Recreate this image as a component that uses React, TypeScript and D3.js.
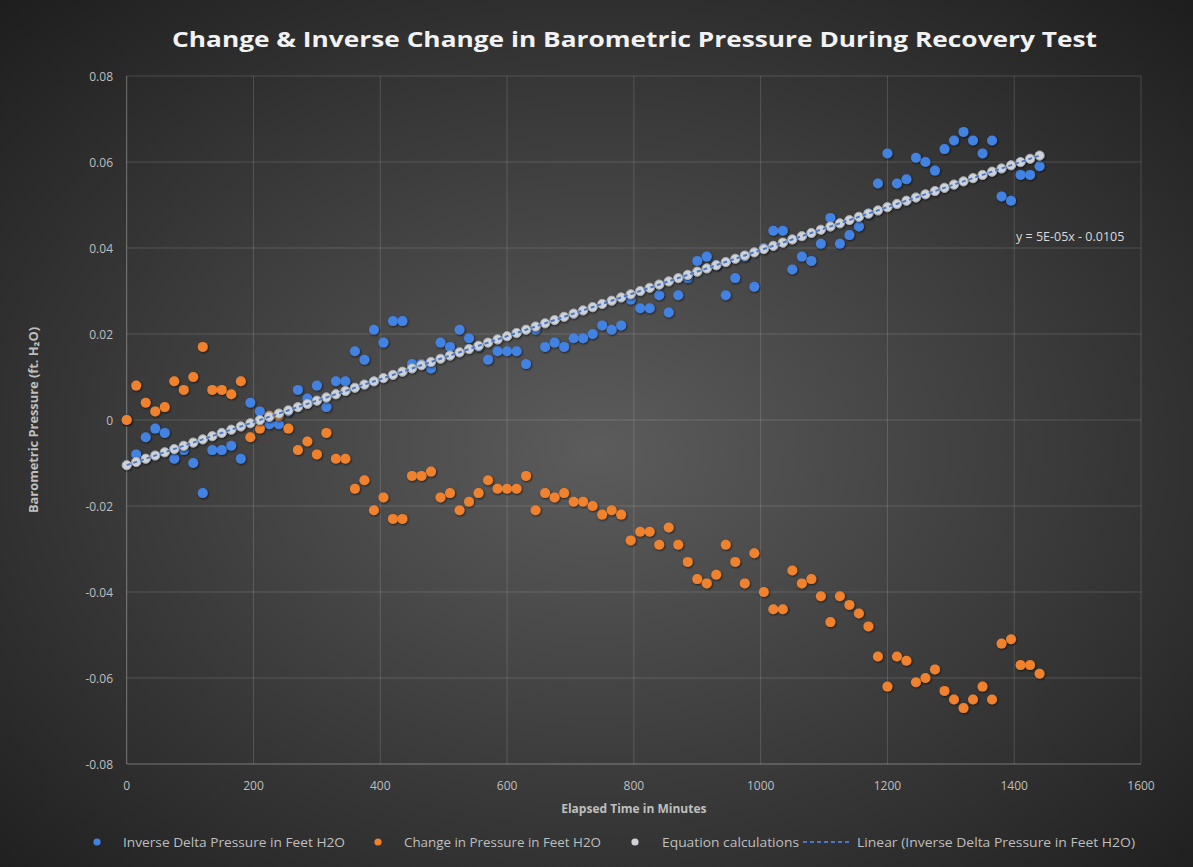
import React from "react";
import * as d3 from "d3";

// Elapsed time (minutes), one reading every 15 minutes
const times: number[] = d3.range(0, 1441, 15);

// Change in pressure, feet of H2O
const changeInPressure: number[] = [
  0, 0.008, 0.004, 0.002, 0.003, 0.009, 0.007, 0.010, 0.017, 0.007,
  0.007, 0.006, 0.009, -0.004, -0.002, 0.001, 0.001, -0.002, -0.007, -0.005,
  -0.008, -0.003, -0.009, -0.009, -0.016, -0.014, -0.021, -0.018, -0.023, -0.023,
  -0.013, -0.013, -0.012, -0.018, -0.017, -0.021, -0.019, -0.017, -0.014, -0.016,
  -0.016, -0.016, -0.013, -0.021, -0.017, -0.018, -0.017, -0.019, -0.019, -0.020,
  -0.022, -0.021, -0.022, -0.028, -0.026, -0.026, -0.029, -0.025, -0.029, -0.033,
  -0.037, -0.038, -0.036, -0.029, -0.033, -0.038, -0.031, -0.040, -0.044, -0.044,
  -0.035, -0.038, -0.037, -0.041, -0.047, -0.041, -0.043, -0.045, -0.048, -0.055,
  -0.062, -0.055, -0.056, -0.061, -0.060, -0.058, -0.063, -0.065, -0.067, -0.065,
  -0.062, -0.065, -0.052, -0.051, -0.057, -0.057, -0.059,
];

// Inverse delta pressure, feet of H2O
const inverseDelta: number[] = [
  0, -0.008, -0.004, -0.002, -0.003, -0.009, -0.007, -0.010, -0.017, -0.007,
  -0.007, -0.006, -0.009, 0.004, 0.002, -0.001, -0.001, 0.002, 0.007, 0.005,
  0.008, 0.003, 0.009, 0.009, 0.016, 0.014, 0.021, 0.018, 0.023, 0.023,
  0.013, 0.013, 0.012, 0.018, 0.017, 0.021, 0.019, 0.017, 0.014, 0.016,
  0.016, 0.016, 0.013, 0.021, 0.017, 0.018, 0.017, 0.019, 0.019, 0.020,
  0.022, 0.021, 0.022, 0.028, 0.026, 0.026, 0.029, 0.025, 0.029, 0.033,
  0.037, 0.038, 0.036, 0.029, 0.033, 0.038, 0.031, 0.040, 0.044, 0.044,
  0.035, 0.038, 0.037, 0.041, 0.047, 0.041, 0.043, 0.045, 0.048, 0.055,
  0.062, 0.055, 0.056, 0.061, 0.060, 0.058, 0.063, 0.065, 0.067, 0.065,
  0.062, 0.065, 0.052, 0.051, 0.057, 0.057, 0.059,
];

// Linear trend stated on the chart: y = 5E-05x - 0.0105
const trendSlope = 5e-5;
const trendIntercept = -0.0105;

const xTicks: number[] = [0, 200, 400, 600, 800, 1000, 1200, 1400, 1600];
const yTicks: number[] = [0.08, 0.06, 0.04, 0.02, 0, -0.02, -0.04, -0.06, -0.08];
const yTickLabels: string[] = ["0.08", "0.06", "0.04", "0.02", "0", "-0.02", "-0.04", "-0.06", "-0.08"];

const W = 1193;
const H = 867;
const FONT = "'Open Sans', 'Liberation Sans', sans-serif";

const BLUE = "#4282e2";
const ORANGE = "#f0822e";
const GRAY_FILL = "#cfd3d8";
const GRAY_STROKE = "#a3a9b0";
const TREND = "#4a78c8";

export default function App() {
  const x = d3.scaleLinear().domain([0, 1600]).range([126.7, 1141]);
  const y = d3.scaleLinear().domain([-0.08, 0.08]).range([764, 76]);

  const equationValues = times.map((t) => trendSlope * t + trendIntercept);
  const trendLine = d3
    .line<number>()
    .x((t) => x(t))
    .y((t) => y(trendSlope * t + trendIntercept));

  const r = 5;

  return (
    <svg
      width={W}
      height={H}
      style={{ position: "absolute", left: 0, top: 0, display: "block" }}
      fontFamily={FONT}
    >
      <defs>
        <radialGradient id="bg" cx="50%" cy="52%" r="75%">
          <stop offset="0%" stopColor="#5c5c5c" />
          <stop offset="100%" stopColor="#1b1b1b" />
        </radialGradient>
        <filter id="shadow" x="-50%" y="-50%" width="200%" height="200%">
          <feDropShadow dx="0.8" dy="1" stdDeviation="1" floodColor="#000" floodOpacity="0.65" />
        </filter>
      </defs>

      <rect x={0} y={0} width={W} height={H} fill="url(#bg)" />

      {/* gridlines */}
      <g>
        {yTicks.map((v) => (
          <line
            key={"gy" + v}
            x1={x(0)}
            x2={x(1600)}
            y1={y(v)}
            y2={y(v)}
            stroke="#ffffff"
            strokeOpacity={v === -0.08 ? 0.35 : 0.15}
            strokeWidth={1}
          />
        ))}
        {xTicks.map((v) => (
          <line
            key={"gx" + v}
            x1={x(v)}
            x2={x(v)}
            y1={y(0.08)}
            y2={y(-0.08)}
            stroke="#ffffff"
            strokeOpacity={v === 0 ? 0.35 : 0.15}
            strokeWidth={1}
          />
        ))}
      </g>

      {/* tick labels */}
      <g fontSize={12} fill="#bfbfbf">
        {yTicks.map((v, i) => (
          <text key={"ty" + v} x={113} y={y(v)} textAnchor="end" dominantBaseline="central">
            {yTickLabels[i]}
          </text>
        ))}
        {xTicks.map((v) => (
          <text key={"tx" + v} x={x(v)} y={785} textAnchor="middle" dominantBaseline="central">
            {v}
          </text>
        ))}
      </g>

      {/* axis titles */}
      <text
        x={x(800)}
        y={808}
        textAnchor="middle"
        dominantBaseline="central"
        fontSize={12}
        fontWeight="bold"
        fill="#bfbfbf"
      >
        Elapsed Time in Minutes
      </text>
      <text
        transform={`translate(33, ${y(0)}) rotate(-90)`}
        textAnchor="middle"
        dominantBaseline="central"
        fontSize={12}
        fontWeight="bold"
        fill="#bfbfbf"
        textLength={186}
        lengthAdjust="spacingAndGlyphs"
      >
        Barometric Pressure  (ft. H₂O)
      </text>

      {/* title */}
      <text
        x={634.5}
        y={38}
        textAnchor="middle"
        dominantBaseline="central"
        fontSize={21.5}
        fontWeight="bold"
        fill="#f2f2f2"
        textLength={925}
        lengthAdjust="spacingAndGlyphs"
      >
        Change &amp; Inverse Change in Barometric Pressure During Recovery Test
      </text>

      {/* series */}
      <g filter="url(#shadow)">
        {inverseDelta.map((v, i) => (
          <circle key={"b" + i} cx={x(times[i])} cy={y(v)} r={r} fill={BLUE} />
        ))}
      </g>
      <g filter="url(#shadow)">
        {changeInPressure.map((v, i) => (
          <circle key={"o" + i} cx={x(times[i])} cy={y(v)} r={r} fill={ORANGE} />
        ))}
      </g>
      <g filter="url(#shadow)">
        {equationValues.map((v, i) => (
          <circle
            key={"g" + i}
            cx={x(times[i])}
            cy={y(v)}
            r={4.6}
            fill={GRAY_FILL}
            stroke={GRAY_STROKE}
            strokeWidth={1}
          />
        ))}
      </g>
      <path
        d={trendLine([0, 1440]) || ""}
        fill="none"
        stroke={TREND}
        strokeWidth={2}
        strokeDasharray="4 3"
      />

      {/* trend equation */}
      <text x={1016} y={236} fontSize={12.5} fill="#d9d9d9" dominantBaseline="central">
        y = 5E-05x - 0.0105
      </text>

      {/* legend */}
      <g fontSize={12} fill="#bfbfbf">
        <circle cx={97} cy={842} r={3.6} fill={BLUE} />
        <text x={123} y={842} dominantBaseline="central" textLength={222} lengthAdjust="spacingAndGlyphs">
          Inverse Delta Pressure in Feet H2O
        </text>
        <circle cx={378} cy={842} r={3.6} fill={ORANGE} />
        <text x={404} y={842} dominantBaseline="central" textLength={197} lengthAdjust="spacingAndGlyphs">
          Change in Pressure in Feet H2O
        </text>
        <circle cx={635} cy={842} r={3.6} fill={GRAY_FILL} />
        <text x={662} y={842} dominantBaseline="central" textLength={137} lengthAdjust="spacingAndGlyphs">
          Equation calculations
        </text>
        <line x1={803} x2={852} y1={842} y2={842} stroke={TREND} strokeWidth={2} strokeDasharray="4 3" />
        <text x={857} y={842} dominantBaseline="central" textLength={278} lengthAdjust="spacingAndGlyphs">
          Linear (Inverse Delta Pressure in Feet H2O)
        </text>
      </g>
    </svg>
  );
}
